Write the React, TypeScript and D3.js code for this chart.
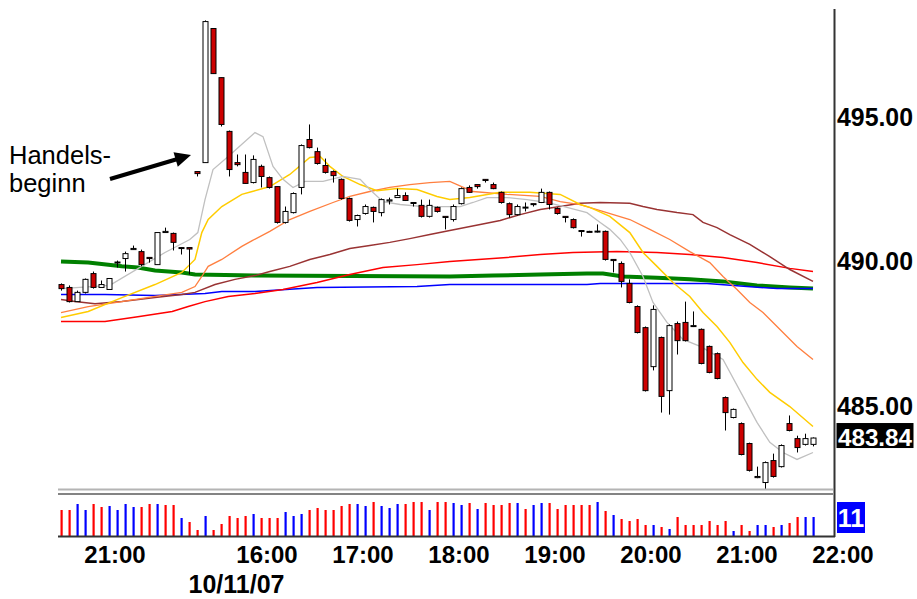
import React from "react";
import * as d3 from "d3";

// ---- Candles (5-minute bars) ----
const opens = [
  489.15, 489.05, 488.56, 488.88, 489.53, 489.05, 488.98, 489.93, 490.05, 490.36,
  490.29, 490.09, 489.84, 490.95, 490.92, 490.43, 490.43, 493.06, 493.37, 498.01,
  496.31, 494.45, 493.37, 493.03, 492.68, 493.24, 492.85, 492.54, 491.30, 491.64,
  492.51, 494.17, 493.75, 493.27, 493.06, 492.79, 492.13, 491.40, 491.61, 491.82,
  491.64, 492.04, 492.16, 492.23, 491.99, 491.89, 491.51, 491.82, 491.51, 491.40,
  491.95, 492.51, 492.61, 492.79, 492.61, 492.34, 491.95, 491.57, 491.80, 491.95,
  491.99, 492.34, 491.78, 491.51, 491.40, 491.02, 490.99, 490.97, 490.99, 490.02,
  489.88, 489.19, 488.39, 487.66, 486.31, 487.32, 485.48, 487.80, 487.84, 487.70,
  487.60, 487.01, 486.76, 485.24, 484.55, 484.34, 483.65, 482.47, 482.30, 483.06,
  482.85, 484.34, 483.82, 483.62, 483.62,
];
const highs = [
  489.19, 489.12, 488.94, 489.36, 489.60, 489.29, 489.36, 489.98, 490.29, 490.50,
  490.36, 490.09, 490.95, 491.12, 490.95, 490.43, 490.43, 493.06, 498.29, 498.01,
  496.31, 494.48, 493.65, 493.65, 493.62, 493.30, 492.89, 492.54, 491.85, 492.34,
  494.00, 494.69, 493.89, 493.51, 493.10, 492.82, 492.16, 491.57, 491.92, 491.85,
  492.13, 492.16, 492.47, 492.34, 491.99, 492.09, 492.09, 491.85, 491.51, 491.92,
  492.51, 492.58, 492.61, 492.79, 492.68, 492.37, 491.99, 491.92, 491.99, 491.95,
  492.47, 492.37, 491.82, 491.51, 491.44, 491.02, 491.01, 491.23, 491.02, 490.02,
  489.95, 489.33, 488.43, 487.70, 488.43, 487.35, 487.77, 487.87, 488.56, 488.22,
  487.63, 487.04, 486.80, 485.28, 484.86, 484.38, 483.68, 482.85, 483.03, 483.30,
  483.62, 484.62, 483.92, 483.99, 483.86,
];
const lows = [
  488.94, 488.53, 488.56, 488.84, 489.01, 489.05, 488.98, 489.74, 489.60, 490.35,
  489.78, 489.91, 489.84, 490.95, 490.33, 490.19, 489.50, 492.89, 493.37, 496.45,
  494.62, 492.89, 493.24, 492.65, 492.65, 492.51, 492.47, 491.26, 491.26, 491.61,
  492.27, 493.86, 493.30, 492.99, 492.68, 492.09, 491.33, 491.16, 491.57, 491.30,
  491.51, 491.92, 492.15, 492.04, 491.85, 491.47, 491.47, 491.64, 491.06, 491.33,
  491.92, 492.32, 492.47, 492.68, 492.45, 491.95, 491.47, 491.54, 491.68, 491.85,
  491.97, 491.75, 491.57, 491.30, 491.09, 490.81, 490.97, 490.95, 489.98, 489.57,
  489.05, 488.50, 487.46, 485.45, 486.18, 484.72, 484.65, 486.73, 487.18, 487.68,
  486.39, 486.08, 485.87, 484.10, 484.52, 483.24, 482.68, 482.45, 482.06, 482.47,
  482.82, 484.07, 483.34, 483.58, 483.55,
];
const closes = [
  489.01, 488.56, 488.88, 489.33, 489.05, 489.15, 489.36, 489.91, 490.22, 490.40,
  489.84, 490.05, 490.95, 490.99, 490.61, 490.40, 490.38, 492.99, 498.25, 496.45,
  494.69, 493.13, 493.30, 492.65, 493.48, 492.89, 492.51, 491.30, 491.68, 492.30,
  493.96, 493.89, 493.34, 493.03, 492.92, 492.13, 491.37, 491.54, 491.85, 491.68,
  492.09, 492.08, 492.23, 492.06, 491.96, 491.51, 491.89, 491.68, 491.47, 491.85,
  492.47, 492.34, 492.54, 492.75, 492.47, 491.99, 491.57, 491.85, 491.83, 491.92,
  492.34, 491.92, 491.61, 491.47, 491.12, 490.99, 490.97, 491.00, 490.02, 489.98,
  489.26, 488.53, 487.49, 485.48, 488.29, 485.28, 487.73, 487.21, 487.21, 487.73,
  486.42, 486.11, 485.90, 484.72, 484.83, 483.27, 482.72, 482.51, 482.99, 482.51,
  483.58, 484.10, 483.51, 483.82, 483.84,
];

// ---- Volume ----
const volumes = [
  26, 26, 32, 26, 32, 29, 30, 26, 32, 29, 29, 32, 32, 31, 31, 18, 14, 6, 20, 6,
  12, 20, 18, 20, 22, 18, 18, 18, 24, 20, 22, 26, 28, 26, 26, 30, 32, 32, 30, 34,
  30, 28, 32, 32, 34, 34, 26, 34, 34, 33, 31, 33, 27, 33, 31, 31, 33, 33, 27, 31,
  33, 33, 27, 31, 31, 31, 31, 34, 25, 21, 17, 15, 17, 11, 11, 9, 7, 19, 11, 11,
  11, 15, 11, 15, 5, 11, 5, 11, 11, 9, 11, 13, 19, 19, 19,
];
const volumeColors = [
  "r", "r", "b", "b", "r", "r", "b", "b", "b", "b", "r", "r", "b", "r", "r", "b", "r", "r", "b", "r",
  "r", "r", "r", "r", "b", "r", "r", "r", "b", "b", "b", "r", "r", "r", "r", "r", "r", "b", "b", "r",
  "b", "b", "b", "r", "r", "r", "b", "r", "r", "b", "b", "r", "b", "r", "r", "r", "r", "b", "r", "b",
  "b", "r", "r", "r", "r", "r", "r", "b", "r", "b", "r", "r", "r", "r", "b", "r", "b", "r", "r", "r",
  "r", "r", "r", "r", "b", "r", "r", "b", "b", "r", "b", "r", "r", "b", "b",
];

// ---- Moving averages, [bar index, price] ----
const maGray: [number, number][] = [
  [0, 489.01], [6.1, 489.12], [13, 490.26], [16.1, 490.71], [17.1, 490.95], [18, 492.09],
  [19, 493.13], [20.9, 493.58], [24.25, 494.41], [25.25, 494.27], [26.5, 493.24], [27.75, 492.79],
  [29, 492.51], [30.5, 492.72], [32.75, 492.72], [35.25, 492.89], [37.4, 492.79], [38.6, 492.44],
  [40.25, 492.02], [42.4, 491.92], [45.25, 491.85], [49.9, 491.85], [51.5, 491.99], [53.25, 492.16],
  [55.75, 492.16], [58.25, 492.09], [60.75, 491.99], [63.25, 491.82], [65.75, 491.64], [67.4, 491.3],
  [68.6, 491.06], [69.9, 490.71], [71.1, 490.26], [72.75, 489.43], [74, 488.53], [75.75, 487.84],
  [77.75, 487.25], [79.9, 487.01], [82.75, 486.56], [85.25, 485.28], [87, 484.38], [88.6, 483.69],
  [90.25, 483.34], [92, 483.1], [94, 483.34],
];
const maYellow: [number, number][] = [
  [0, 488.01], [3.4, 488.22], [7.6, 488.7], [11.75, 489.15], [15.1, 489.57], [16.75, 490.02],
  [17.6, 490.95], [18.4, 491.4], [20.1, 491.85], [22.6, 492.27], [23.9, 492.37], [26.1, 492.54],
  [28.6, 492.96], [31.1, 493.55], [32.4, 493.58], [33.6, 493.24], [35.25, 492.89], [37.4, 492.61],
  [39.5, 492.4], [42, 492.47], [44.5, 492.44], [47, 492.2], [48.6, 492.09], [51.1, 492.16],
  [54.9, 492.34], [58.6, 492.34], [62.4, 492.27], [64.9, 491.92], [66.1, 491.82], [68.6, 491.51],
  [71.1, 490.95], [72.75, 490.26], [74.5, 489.78], [76.5, 489.22], [78.6, 488.74], [80.25, 488.18],
  [82, 487.7], [83.6, 487.15], [85.25, 486.45], [87, 485.87], [88.6, 485.42], [91.1, 484.93],
  [94, 484.24],
];
const maOrange: [number, number][] = [
  [0, 488.18], [3.4, 488.39], [7.6, 488.56], [11.75, 488.74], [15.1, 488.88], [16.75, 489.08],
  [17.6, 489.43], [18.4, 489.78], [20.1, 490.02], [22.6, 490.47], [23.9, 490.67], [26.1, 490.99],
  [28.6, 491.4], [31.1, 491.68], [34, 491.99], [36.1, 492.2], [38.6, 492.37], [41.1, 492.51],
  [43.6, 492.61], [46.1, 492.68], [48.6, 492.72], [51.5, 492.37], [55.75, 492.27], [59.9, 492.2],
  [62.4, 492.02], [64.9, 491.92], [67.4, 491.71], [71.1, 491.4], [73.6, 491.06], [76.1, 490.71],
  [78.6, 490.29], [81.1, 489.91], [82.75, 489.43], [84.5, 488.98], [86.1, 488.53], [87.75, 488.18],
  [89.5, 487.7], [92, 487.01], [94, 486.56],
];
const maMaroon: [number, number][] = [
  [0, 488.63], [1.75, 488.56], [4.25, 488.49], [7.6, 488.56], [11.75, 488.7], [15.1, 488.81],
  [16.75, 488.88], [19.25, 489.15], [21.75, 489.33], [24.25, 489.46], [26.1, 489.6], [28.6, 489.78],
  [31.1, 490.02], [33.6, 490.19], [36.1, 490.4], [38.6, 490.5], [41.1, 490.61], [43.6, 490.74],
  [46.1, 490.88], [48.6, 491.02], [52.4, 491.23], [54.9, 491.37], [57.4, 491.57], [59.9, 491.75],
  [62.4, 491.85], [64.9, 491.96], [67.4, 491.99], [71.1, 491.96], [72.75, 491.85], [74.5, 491.75],
  [77, 491.64], [79, 491.57], [80.25, 491.3], [82, 491.12], [83.6, 490.88], [86.1, 490.54],
  [88.6, 490.12], [91.1, 489.67], [94, 489.26],
];
const maRed: [number, number][] = [
  [0, 487.87], [5.5, 487.87], [9.6, 488.04], [13.9, 488.22], [15.9, 488.39], [18, 488.56],
  [20.9, 488.74], [24.25, 488.84], [27.75, 488.98], [32, 489.22], [36.1, 489.5], [40.25, 489.74],
  [44.5, 489.84], [48.6, 489.95], [55.75, 490.09], [59.9, 490.19], [64, 490.26], [69.5, 490.29],
  [74.5, 490.26], [78.6, 490.19], [82.75, 490.09], [87, 489.91], [91.1, 489.71], [94, 489.6],
];
const maGreen: [number, number][] = [
  [0, 489.95], [3.4, 489.91], [7.6, 489.78], [9.6, 489.74], [11.75, 489.64], [15.1, 489.57],
  [16.75, 489.5], [24.25, 489.46], [48.6, 489.43], [54, 489.46], [59.9, 489.5], [65.75, 489.53],
  [67.75, 489.53], [70.25, 489.43], [74.5, 489.39], [78.6, 489.33], [82.75, 489.26], [87, 489.12],
  [91.1, 489.05], [94, 489.01],
];
const maBlue: [number, number][] = [
  [0, 488.81], [5.5, 488.81], [11.75, 488.77], [18, 488.84], [20.1, 488.91], [24.25, 488.91],
  [32, 489.05], [44.5, 489.08], [48.6, 489.15], [65.75, 489.15], [67.4, 489.19], [80.75, 489.19],
  [85.75, 489.08], [89.5, 489.01], [94, 489.01],
];

// ---- Axis ticks ----
const priceTicks = [485, 490, 495];
const timeTickLabels = ["21:00", "16:00", "17:00", "18:00", "19:00", "20:00", "21:00", "22:00"];
const timeTickIndex = [6.75, 25.75, 37.75, 49.75, 61.75, 73.75, 85.75, 97.75];
const dateLabel = "10/11/07";
const lastPrice = 483.84;
const lastVolumeLabel = "11";
const annotationLines = ["Handels-", "beginn"];

const FONT = "'Liberation Sans', Arial, Helvetica, sans-serif";

export default function App() {
  const x = d3.scaleLinear().domain([0, 94]).range([61, 813]);
  const y = d3.scaleLinear().domain([485, 495]).range([404.5, 115.5]);
  const yv = d3.scaleLinear().domain([0, 35]).range([536, 501]);

  const line = d3
    .line<[number, number]>()
    .x((d) => x(d[0]))
    .y((d) => y(d[1]))
    .curve(d3.curveLinear);

  const mas: { data: [number, number][]; color: string; width: number }[] = [
    { data: maGreen, color: "#008000", width: 4 },
    { data: maBlue, color: "#0000ff", width: 1.5 },
    { data: maRed, color: "#ff0000", width: 1.5 },
    { data: maMaroon, color: "#993333", width: 1.5 },
    { data: maOrange, color: "#ff7f3f", width: 1.3 },
    { data: maYellow, color: "#ffcc00", width: 1.5 },
    { data: maGray, color: "#c0c0c0", width: 1.3 },
  ];

  const bodyW = 5;

  // Arrow geometry
  const ax0 = 110, ay0 = 179, ax1 = 191, ay1 = 155;
  const len = Math.hypot(ax1 - ax0, ay1 - ay0);
  const ux = (ax1 - ax0) / len, uy = (ay1 - ay0) / len;
  const headL = 16, headW = 7.5;
  const bx = ax1 - ux * headL, by = ay1 - uy * headL;
  const head = `${ax1},${ay1} ${bx - uy * headW},${by + ux * headW} ${bx + uy * headW},${by - ux * headW}`;

  const lastY = y(lastPrice);

  return (
    <svg
      width={917}
      height={599}
      style={{ position: "absolute", left: 0, top: 0, background: "#ffffff" }}
      fontFamily={FONT}
    >
      <rect x={0} y={0} width={917} height={599} fill="#ffffff" />

      {/* moving averages */}
      <g fill="none">
        {mas.map((m, k) => (
          <path key={k} d={line(m.data) || ""} stroke={m.color} strokeWidth={m.width} />
        ))}
      </g>

      {/* candles */}
      <g>
        {opens.map((o, i) => {
          const c = closes[i];
          const up = c >= o;
          const cx = Math.round(x(i)) + 0.5;
          const top = y(Math.max(o, c));
          const bot = y(Math.min(o, c));
          const h = Math.max(1, bot - top);
          return (
            <g key={i}>
              <line x1={cx} x2={cx} y1={y(highs[i])} y2={y(lows[i])} stroke="#000" strokeWidth={1} />
              <rect
                x={cx - bodyW / 2}
                y={top}
                width={bodyW}
                height={h}
                fill={up ? "#ffffff" : "#cc0000"}
                stroke="#000"
                strokeWidth={1}
              />
            </g>
          );
        })}
      </g>

      {/* panel separator */}
      <line x1={58} x2={833} y1={489.5} y2={489.5} stroke="#b4b4b4" strokeWidth={2} />
      <line x1={58} x2={833} y1={494} y2={494} stroke="#5a5a5a" strokeWidth={1.5} />

      {/* volume bars */}
      <g>
        {volumes.map((v, i) => (
          <rect
            key={i}
            x={Math.round(x(i)) - 0.5}
            y={yv(v)}
            width={2.2}
            height={yv(0) - yv(v)}
            fill={volumeColors[i] === "r" ? "#ff0000" : "#0000ff"}
          />
        ))}
      </g>
      <line x1={58} x2={835} y1={536.5} y2={536.5} stroke="#333" strokeWidth={2} />

      {/* right axis */}
      <line x1={834.5} x2={834.5} y1={9} y2={537} stroke="#333" strokeWidth={2} />
      <g fontWeight="bold" fontSize={26} fill="#000">
        {priceTicks.map((p) => (
          <text key={p} x={837} y={y(p) + 10} textLength={76} lengthAdjust="spacingAndGlyphs">
            {p.toFixed(2)}
          </text>
        ))}
      </g>
      <rect x={836.5} y={lastY - 15} width={77} height={25} fill="#000" />
      <text
        x={838}
        y={lastY + 7.5}
        fill="#fff"
        fontWeight="bold"
        fontSize={24}
        textLength={74}
        lengthAdjust="spacingAndGlyphs"
      >
        {lastPrice.toFixed(2)}
      </text>

      {/* volume label */}
      <rect x={837} y={502} width={28} height={31} fill="#0000ff" />
      <text x={851} y={527} fill="#fff" fontWeight="bold" fontSize={25} textAnchor="middle">
        {lastVolumeLabel}
      </text>

      {/* time axis */}
      <g fontWeight="bold" fontSize={24} fill="#000" textAnchor="middle">
        {timeTickLabels.map((t, k) => (
          <text key={k} x={x(timeTickIndex[k])} y={563}>
            {t}
          </text>
        ))}
        <text x={236.5} y={593} fontSize={25}>
          {dateLabel}
        </text>
      </g>

      {/* annotation */}
      <g fontSize={25.5} fill="#000">
        {annotationLines.map((t, k) => (
          <text key={k} x={9} y={164 + k * 28}>
            {t}
          </text>
        ))}
      </g>
      <line x1={ax0} y1={ay0} x2={bx + ux * 2} y2={by + uy * 2} stroke="#000" strokeWidth={4} />
      <polygon points={head} fill="#000" />
    </svg>
  );
}
